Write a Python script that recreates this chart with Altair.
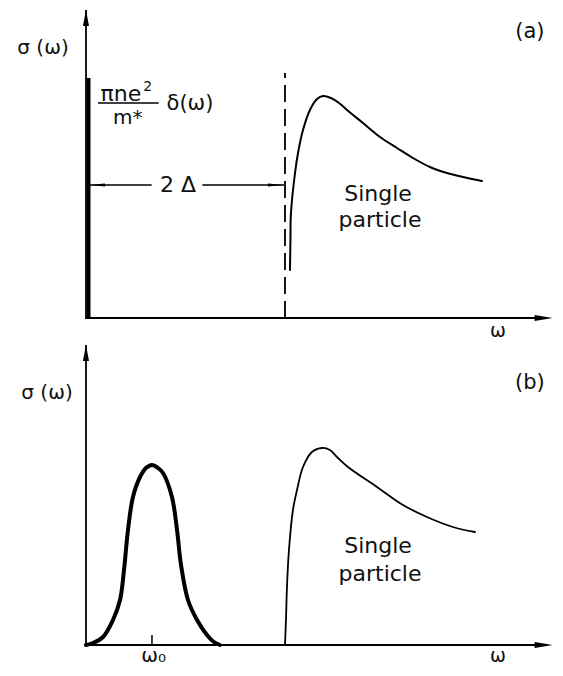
import altair as alt
import pandas as pd

# ---------------- scales (ω in units of Δ, σ arbitrary) ----------------
W_MIN, W_MAX = -0.784, 4.714
A_DOM = [-3.5, 3.1]      # panel (a) σ domain
B_DOM = [-0.23, 6.37]    # panel (b) σ domain
FONT = "DejaVu Sans"

# ---------------- panel (a) data ----------------
A_CURVE_W = [2.050, 2.055, 2.060, 2.101, 2.131, 2.181, 2.251, 2.322, 2.382, 2.462, 2.543,
             2.623, 2.784, 2.955, 3.126, 3.286, 3.457, 3.628, 3.789, 3.980]
A_CURVE_S = [0.48, 0.78, 1.05, 1.45, 1.65, 1.88, 2.08, 2.19, 2.22, 2.20, 2.15,
             2.08, 1.95, 1.81, 1.70, 1.60, 1.51, 1.45, 1.41, 1.37]
A_DELTA_H = 2.40        # drawn height of the δ-function spike
GAP = 2.0               # 2Δ
A_DASH_TOP = 2.45
A_AXIS_TOP = 3.08
AXIS_END = 4.69
A_ARROW_LEVEL = 1.33
A_ARROW_BREAK = [0.66, 1.17]

A_TEXT = ["σ (ω)", "(a)", "Single", "particle", "ω", "2 Δ", "πne", "2", "m*", "δ(ω)"]
A_TEXT_W = [-0.432, 4.462, 2.935, 2.955, 4.141, 0.925, 0.35, 0.62, 0.42, 1.045]
A_TEXT_S = [2.70, 2.86, 1.24, 0.98, -0.13, 1.33, 2.24, 2.31, 2.00, 2.14]
A_TEXT_FS = [20, 21, 22, 22, 19, 22, 22, 14, 20, 21]
A_FRAC_BAR = [0.12, 0.73, 2.15]

# ---------------- panel (b) data ----------------
B_GAUSS_W = [0.000, 0.070, 0.171, 0.271, 0.342, 0.382, 0.422, 0.472, 0.543, 0.603,
             0.663, 0.724, 0.774, 0.864, 0.915, 0.955, 1.025, 1.116, 1.216, 1.286, 1.347]
B_GAUSS_S = [0.00, 0.02, 0.08, 0.25, 0.45, 0.75, 1.15, 1.48, 1.68, 1.77,
             1.80, 1.77, 1.72, 1.48, 1.15, 0.80, 0.45, 0.25, 0.10, 0.03, 0.00]
B_CURVE_W = [2.000, 2.010, 2.020, 2.040, 2.080, 2.121, 2.181, 2.271, 2.372,
             2.452, 2.523, 2.633, 2.925, 3.186, 3.427, 3.688, 3.910]
B_CURVE_S = [0.00, 0.25, 0.58, 0.95, 1.35, 1.55, 1.78, 1.93, 1.97,
             1.95, 1.88, 1.78, 1.58, 1.40, 1.28, 1.18, 1.13]
OMEGA0 = 0.663
B_AXIS_TOP = 3.00

B_TEXT = ["σ (ω)", "(b)", "Single", "particle", "ω", "ω₀"]
B_TEXT_W = [-0.392, 4.462, 2.935, 2.955, 4.141, 0.68]
B_TEXT_S = [2.52, 2.62, 0.99, 0.71, -0.11, -0.11]
B_TEXT_FS = [20, 21, 22, 22, 19, 20]

# ---------------- helpers ----------------
X = alt.X("w:Q", scale=alt.Scale(domain=[W_MIN, W_MAX], nice=False, zero=False), axis=None)
X2 = alt.X2("w2:Q")


def Y(dom):
    return alt.Y("s:Q", scale=alt.Scale(domain=dom, nice=False, zero=False), axis=None)


def rules(rows, dom, width, dash=None):
    df = pd.DataFrame(rows, columns=["w", "s", "w2", "s2"])
    kw = dict(color="black", strokeWidth=width, strokeCap="butt")
    if dash:
        kw["strokeDash"] = dash
    return alt.Chart(df).mark_rule(**kw).encode(x=X, y=Y(dom), x2=X2, y2=alt.Y2("s2:Q"))


def line(ws, ss, dom, width):
    df = pd.DataFrame({"w": ws, "s": ss})
    return alt.Chart(df).mark_line(color="black", strokeWidth=width, interpolate="catmull-rom",
                                   strokeCap="round", strokeJoin="round").encode(x=X, y=Y(dom))


def head(ws, ss, dom, shape, size):
    df = pd.DataFrame({"w": ws, "s": ss})
    return alt.Chart(df).mark_point(shape=shape, size=size, filled=True, color="black",
                                    opacity=1, strokeWidth=0).encode(x=X, y=Y(dom))


def texts(txt, ws, ss, fs, dom):
    df = pd.DataFrame({"t": txt, "w": ws, "s": ss, "fs": fs})
    return alt.Chart(df).mark_text(font=FONT, color="#111", align="center",
                                   baseline="middle").encode(
        x=X, y=Y(dom), text="t:N", size=alt.Size("fs:Q", scale=None, legend=None))


UP = "M0,0L-0.38,2L0.38,2Z"
RIGHT = "M0,0L-2,-0.33L-2,0.33Z"
SMALL_R = "M0,0L-2,-0.2L-2,0.2Z"
SMALL_L = "M0,0L2,-0.2L2,0.2Z"

layers = [
    # ---- panel (a)
    rules([[0, -0.01, 0, A_AXIS_TOP], [0, 0, AXIS_END - 0.1, 0]], A_DOM, 1.8),
    rules([[0.025, 0, 0.025, A_DELTA_H]], A_DOM, 4),
    rules([[GAP, 0, GAP, A_DASH_TOP]], A_DOM, 1.8, dash=[17, 7]),
    rules([[0.02, A_ARROW_LEVEL, A_ARROW_BREAK[0], A_ARROW_LEVEL],
           [A_ARROW_BREAK[1], A_ARROW_LEVEL, GAP - 0.01, A_ARROW_LEVEL],
           [A_FRAC_BAR[0], A_FRAC_BAR[2], A_FRAC_BAR[1], A_FRAC_BAR[2]]], A_DOM, 1.3),
    head([0], [A_AXIS_TOP], A_DOM, UP, 256),
    head([AXIS_END], [0], A_DOM, RIGHT, 324),
    head([0.03], [A_ARROW_LEVEL], A_DOM, SMALL_L, 256),
    head([GAP - 0.01], [A_ARROW_LEVEL], A_DOM, SMALL_R, 256),
    line(A_CURVE_W, A_CURVE_S, A_DOM, 2),
    texts(A_TEXT, A_TEXT_W, A_TEXT_S, A_TEXT_FS, A_DOM),
    # ---- panel (b)
    rules([[0, -0.01, 0, B_AXIS_TOP], [0, 0, AXIS_END - 0.1, 0]], B_DOM, 1.8),
    rules([[OMEGA0, 0, OMEGA0, 0.10]], B_DOM, 1.5),
    head([0], [B_AXIS_TOP], B_DOM, UP, 256),
    head([AXIS_END], [0], B_DOM, RIGHT, 324),
    line(B_GAUSS_W, B_GAUSS_S, B_DOM, 4),
    line(B_CURVE_W, B_CURVE_S, B_DOM, 1.8),
    texts(B_TEXT, B_TEXT_W, B_TEXT_S, B_TEXT_FS, B_DOM),
]

chart = alt.layer(*layers).resolve_scale(y="independent").properties(
    width=547, height=660, padding=0,
    autosize=alt.AutoSizeParams(type="none"),
    background="white",
).configure_view(stroke=None)

chart.save("out.html", embed_options={"renderer": "svg", "actions": False})
